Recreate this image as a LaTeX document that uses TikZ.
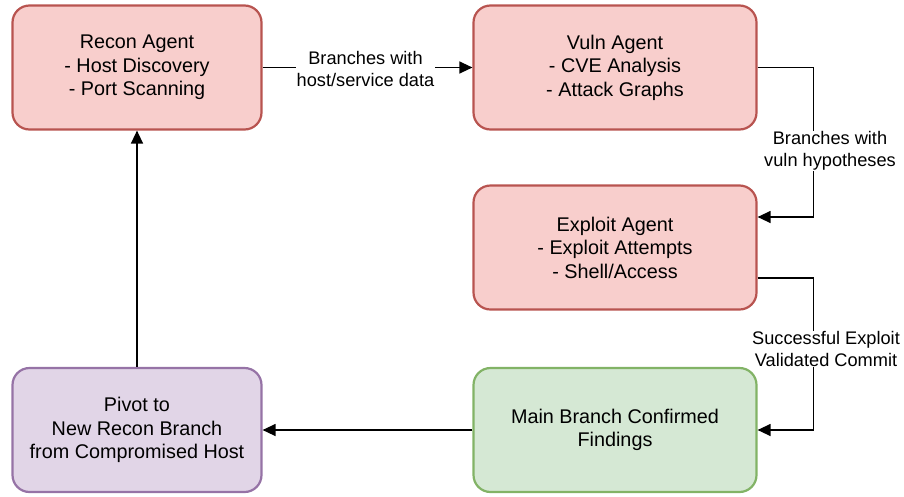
\documentclass[tikz,border=0pt]{standalone}
\usepackage{fontspec}
\setmainfont{Liberation Sans}
\usetikzlibrary{arrows.meta}

\definecolor{agentfill}{HTML}{F8CECC}
\definecolor{agentline}{HTML}{B85450}
\definecolor{pivotfill}{HTML}{E1D5E7}
\definecolor{pivotline}{HTML}{9673A6}
\definecolor{mainfill}{HTML}{D5E8D4}
\definecolor{mainline}{HTML}{82B366}

\begin{document}
\begin{tikzpicture}[x=1pt,y=-1pt,
    box/.style={rounded corners=17pt, line width=2.2pt, align=center,
      minimum height=124pt, font=\fontsize{19.8}{23.5}\selectfont},
    agent/.style={box, draw=agentline, fill=agentfill, minimum width=283pt},
    link/.style={line width=1.3pt, -{Triangle[length=13pt,width=12pt]}},
    lbl/.style={fill=white, inner sep=1pt, align=center,
      font=\fontsize{18.2}{21.5}\selectfont}]
  \useasboundingbox (0,0) rectangle (904,496);

  % boxes
  \node[box, draw=agentline, fill=agentfill, minimum width=249pt] (recon) at (137,67.5)
    {Recon Agent\\- Host Discovery\\- Port Scanning};
  \node[agent] (vuln) at (615,67.5) {Vuln Agent\\- CVE Analysis\\- Attack Graphs};
  \node[agent] (exploit) at (615,247.5) {Exploit Agent\\- Exploit Attempts\\- Shell/Access};
  \node[box, draw=mainline, fill=mainfill, minimum width=283pt] (main) at (615,430)
    {Main Branch Confirmed\\Findings};
  \node[box, draw=pivotline, fill=pivotfill, minimum width=249pt] (pivot) at (137,430)
    {Pivot to\\New Recon Branch\\from Compromised Host};

  % connectors
  \draw[link] (recon) -- (vuln);
  \draw[link] (vuln.east) -- ++(56,0) |- ([yshift=30.5pt]exploit.east);
  \draw[link] ([yshift=-30.5pt]exploit.east) -- ++(56,0) |- (main.east);
  \draw[link] (main) -- (pivot);
  \draw[link] (pivot) -- (recon);

  % labels
  \node[lbl] (hostdata) at (365.5,69) {Branches with\\host/service data};
  \node[lbl] (vulnhyp) at (830,151) {Branches with\\vuln hypotheses};
  \node[lbl] (commit) at (826,349) {Successful Exploit\\Validated Commit};
\end{tikzpicture}
\end{document}
